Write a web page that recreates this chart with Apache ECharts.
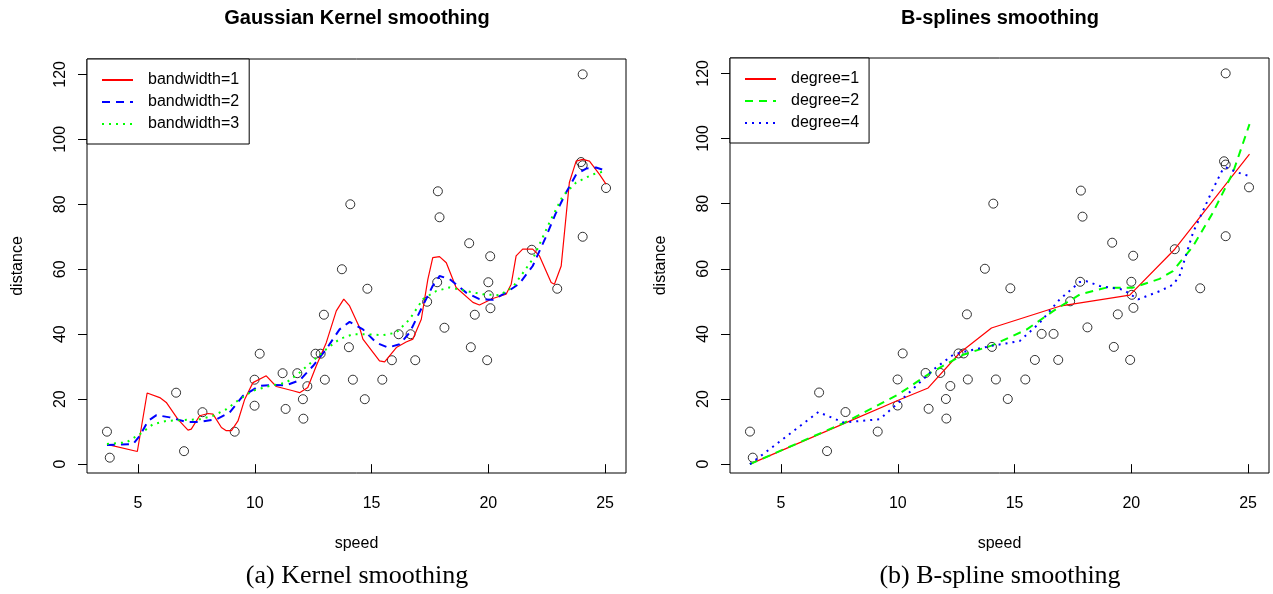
<!DOCTYPE html>
<html>
<head>
<meta charset="utf-8">
<script src="https://cdn.jsdelivr.net/npm/echarts@6/dist/echarts.min.js"></script>
<style>
html,body{margin:0;padding:0;background:#fff;}
#chart{width:1273px;height:594px;}
</style>
</head>
<body>
<div id="chart"></div>
<script>
// ---- observed data (cars, with jittered speed) ----
const speed = [3.67,3.79,6.63,6.97,7.76,9.14,9.99,9.99,10.21,11.19,11.32,11.82,12.06,12.08,12.25,12.6,12.82,12.96,13.0,14.03,14.2,13.73,14.09,14.71,14.82,15.46,15.87,16.16,16.67,16.87,17.38,17.81,17.84,17.91,18.12,19.18,19.25,19.42,19.95,20.0,20.02,20.09,20.08,21.86,22.95,23.97,24.04,24.04,24.04,25.04];
const dist  = [10,2,22,4,16,10,18,26,34,28,17,28,20,14,24,34,34,46,26,36,26,60,80,20,54,26,32,40,40,32,50,56,84,76,42,68,36,46,32,56,52,48,64,66,54,93,92,70,120,85];

// ---- Gaussian kernel smoothing curves ----
const bw1X = [3.67,4.97,5.39,5.93,6.21,6.71,7.14,7.28,7.64,8.0,8.21,8.57,8.78,9.0,9.28,9.57,9.92,10.49,10.92,11.63,11.92,12.27,12.63,13.06,13.49,13.81,14.06,14.49,14.63,15.34,15.56,16.06,16.48,16.77,17.13,17.41,17.62,17.91,18.2,18.62,19.34,19.62,20.19,20.76,20.98,21.19,21.47,21.9,22.19,22.69,22.83,23.12,23.47,23.76,24.04,24.33,24.76,25.04];
const bw1Y = [6.1,3.9,21.9,20.5,19,13.8,10.5,10.8,14.9,15.6,15.4,11.3,10.3,10.3,13.3,20,25.1,27.2,23.9,22.6,22,23.6,30.2,37.4,47.2,50.8,48.7,42,38.5,31.8,31.5,35.9,37.6,38.5,44.6,56.9,63.6,63.9,62,54.4,49.8,49,51,52.3,55.4,64.1,66.2,66.2,64.1,55.9,55.4,61,86.7,93.3,93.8,93.3,89.2,86.2];
const bw2X = [3.67,4.79,5.07,5.43,5.79,6.36,7.07,7.64,8.35,8.92,9.49,10.2,10.78,11.35,11.92,12.49,13.06,13.63,14.06,14.63,15.2,15.7,16.2,16.63,17.05,17.62,17.91,18.34,19.05,19.62,20.19,20.76,21.33,21.9,22.48,22.9,23.33,23.76,24.19,24.61,25.04];
const bw2Y = [5.9,6.2,8.7,13.3,15.1,14.4,13.0,13.0,13.8,15.9,21,24.1,24.4,24.3,25.8,30.2,35.4,41.5,43.8,41.5,37.4,35.9,36.9,40.5,46.7,54.9,57.9,57,52.8,50.8,50.6,52.8,55.6,61,70.2,77.4,83.6,89.2,91,91.3,90.3];
const bw3X = [3.67,4.5,5.07,5.64,6.21,6.93,7.64,8.21,8.78,9.35,9.92,10.64,11.35,11.92,12.49,13.06,13.63,14.2,14.77,15.48,16.06,16.63,17.2,17.77,18.34,19.05,19.76,20.48,21.05,21.9,22.62,23.19,23.76,24.47,25.04];
const bw3Y = [6.2,6.7,9.2,12.3,13.3,13.6,13.8,14.9,16.9,20,22.6,24.1,25.1,28.2,31.8,35.4,38.5,40,40,39.7,40.5,44.6,50.8,53.3,54.4,53.3,52.3,52,54.5,63.1,74.4,82.6,86.7,89.2,90.3];

// ---- B-spline smoothing curves ----
const deg1X = [3.67,7.74,10.02,11.3,12.66,14.01,16.93,19.93,21.86,25.06];
const deg1Y = [0,12.6,19.6,23.4,34.2,41.8,48.5,51.9,66,95.2];
const deg2X = [3.67,7.74,10.02,11.39,12.8,14.01,15.51,16.65,17.79,18.93,20.07,21.21,21.78,22.64,23.49,24.35,25.06];
const deg2Y = [0,12.8,21.4,28,33.6,36.4,41.3,47,52.1,54.2,54.2,56.9,59.3,66.9,77.2,89.5,104.4];
const deg4X = [3.67,6.6,7.67,9.23,10.02,11.52,12.37,12.94,14.08,15.22,16.08,16.93,17.79,18.07,18.65,19.65,20.29,21.21,21.78,22.06,22.64,23.49,23.92,24.06,24.49,25.04];
const deg4Y = [0,16,12.8,13.8,18.8,29,33.6,34.7,36.4,37.8,43.4,50.6,55.9,56.2,54.7,53.6,50.6,53.1,55.1,57.7,71.1,84.4,90.6,91.1,89.7,88.5];

const xTicks = [5,10,15,20,25];
const yTicks = [0,20,40,60,80,100,120];
const leftNames = ['bandwidth=1','bandwidth=2','bandwidth=3'];
const rightNames = ['degree=1','degree=2','degree=4'];

const zip = (a,b) => a.map((v,i)=>[v,b[i]]);
const SANS = 'Liberation Sans, Arial, sans-serif';
const SERIF = 'Liberation Serif, Times New Roman, serif';

function xAxis(gi){
  return {
    type:'value', gridIndex:gi, min:2.815, max:25.895,
    name:'speed', nameLocation:'middle', nameGap:63,
    nameTextStyle:{color:'#000',fontSize:16,fontFamily:SANS},
    axisLine:{show:false},
    splitLine:{show:false},
    axisTick:{show:true,length:9,customValues:xTicks,lineStyle:{color:'#000',width:1}},
    axisLabel:{customValues:xTicks,color:'#000',fontSize:16,fontFamily:SANS,margin:23}
  };
}
function yAxis(gi){
  return {
    type:'value', gridIndex:gi, min:-2.72, max:124.72,
    name:'distance', nameLocation:'middle', nameGap:61,
    nameTextStyle:{color:'#000',fontSize:16,fontFamily:SANS},
    axisLine:{show:false},
    splitLine:{show:false},
    axisTick:{show:true,length:9,customValues:yTicks,lineStyle:{color:'#000',width:1}},
    axisLabel:{customValues:yTicks,rotate:90,color:'#000',fontSize:16,fontFamily:SANS,margin:18}
  };
}
function legend(left,top,names){
  return {
    left:left, top:top, orient:'vertical', data:names,
    backgroundColor:'#fff', borderColor:'#000', borderWidth:1, borderRadius:0,
    padding:[13,10,12,14], itemGap:6, itemWidth:31, itemHeight:14,
    itemStyle:{opacity:0},
    textStyle:{color:'#000',fontSize:16,fontFamily:SANS,lineHeight:14,padding:[0,0,0,10]},
    selectedMode:false
  };
}
function pts(gi){
  return {type:'scatter', xAxisIndex:gi, yAxisIndex:gi, data:zip(speed,dist), symbol:'circle', symbolSize:9,
    itemStyle:{color:'rgba(0,0,0,0)',borderColor:'#000',borderWidth:1}, z:2, silent:true};
}
function line(gi,name,xs,ys,color,type,width){
  return {type:'line', name:name, xAxisIndex:gi, yAxisIndex:gi, data:zip(xs,ys), symbol:'none', smooth:false,
    lineStyle:{color:color,type:type,width:width}, itemStyle:{color:color}, z:3, silent:true, animation:false};
}

const chart = echarts.init(document.getElementById('chart'), null, {renderer:'canvas'});
chart.setOption({
  animation:false,
  backgroundColor:'#fff',
  title:[
    {text:'Gaussian Kernel smoothing', left:357, top:8, textAlign:'center', padding:0,
     textStyle:{fontFamily:SANS,fontWeight:'bold',fontSize:20,color:'#000'}},
    {text:'B-splines smoothing', left:1000, top:8, textAlign:'center', padding:0,
     textStyle:{fontFamily:SANS,fontWeight:'bold',fontSize:20,color:'#000'}},
    {text:'(a) Kernel smoothing', left:357, top:563, textAlign:'center', padding:0,
     textStyle:{fontFamily:SERIF,fontWeight:'normal',fontSize:26,color:'#000'}},
    {text:'(b) B-spline smoothing', left:1000, top:563, textAlign:'center', padding:0,
     textStyle:{fontFamily:SERIF,fontWeight:'normal',fontSize:26,color:'#000'}}
  ],
  grid:[
    {left:87, top:59, width:539, height:414, show:true, borderColor:'#000', borderWidth:1, backgroundColor:'transparent'},
    {left:730, top:58, width:539, height:415, show:true, borderColor:'#000', borderWidth:1, backgroundColor:'transparent'}
  ],
  xAxis:[xAxis(0), xAxis(1)],
  yAxis:[yAxis(0), yAxis(1)],
  legend:[legend(87,59,leftNames), legend(730,58,rightNames)],
  series:[
    pts(0),
    line(0,'bandwidth=1',bw1X,bw1Y,'#ff0000','solid',1.2),
    line(0,'bandwidth=2',bw2X,bw2Y,'#0000ff',[8,6],2),
    line(0,'bandwidth=3',bw3X,bw3Y,'#00ff00',[2,5],2),
    pts(1),
    line(1,'degree=1',deg1X,deg1Y,'#ff0000','solid',1.2),
    line(1,'degree=2',deg2X,deg2Y,'#00ff00',[8,6],2),
    line(1,'degree=4',deg4X,deg4Y,'#0000ff',[2,5],2)
  ]
});
</script>
</body>
</html>
